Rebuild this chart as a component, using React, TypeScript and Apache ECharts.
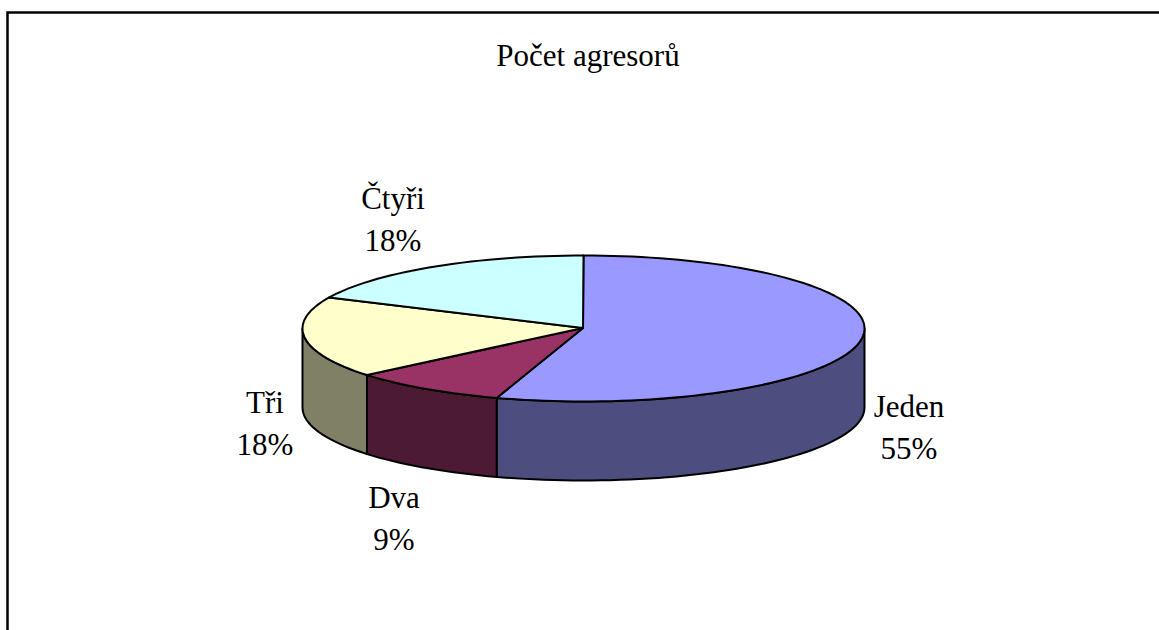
import React, { useEffect, useRef } from "react";
import * as echarts from "echarts";

const title = "Počet agresorů";
const categories = ["Jeden", "Dva", "Tři", "Čtyři"];
const values = [55, 9, 18, 18];
const topColors = ["#9999FF", "#993366", "#FFFFCC", "#CCFFFF"];
const sideColors = ["#4D4D80", "#4D1A33", "#808066", "#668080"];
const labelCentres = [
  [909, 406],
  [394, 497],
  [265, 402],
  [393, 198],
];

const CX = 583.5;
const CY = 328.5;
const RX = 281;
const RY = 73;
const DEPTH = 79;
const LINE_GAP = 42;
const FONT = '"Liberation Serif", "Times New Roman", serif';

const total = values.reduce((a, b) => a + b, 0);

function sliceAngles(i: number): [number, number] {
  let before = 0;
  for (let k = 0; k < i; k++) before += values[k];
  return [(before / total) * Math.PI * 2, ((before + values[i]) / total) * Math.PI * 2];
}

function rim(a: number, dy = 0): number[] {
  return [CX + RX * Math.sin(a), CY - RY * Math.cos(a) + dy];
}

function arc(a0: number, a1: number, dy = 0): number[][] {
  const n = Math.max(2, Math.ceil(Math.abs(a1 - a0) / (Math.PI / 90)));
  const pts: number[][] = [];
  for (let k = 0; k <= n; k++) pts.push(rim(a0 + ((a1 - a0) * k) / n, dy));
  return pts;
}

function renderSide(_: any, api: any) {
  const i = api.value(0);
  const [a0, a1] = sliceAngles(i);
  const s = Math.max(a0, Math.PI / 2);
  const e = Math.min(a1, Math.PI * 1.5);
  if (e <= s) return { type: "group", children: [] };
  const points = [...arc(s, e), ...arc(e, s, DEPTH)];
  return {
    type: "polygon",
    shape: { points },
    style: { fill: sideColors[i], stroke: "#000", lineWidth: 2, lineJoin: "round" },
  };
}

function renderTop(_: any, api: any) {
  const i = api.value(0);
  const [a0, a1] = sliceAngles(i);
  const points = [[CX - 0.5, CY - 0.5], ...arc(a0, a1)];
  const pct = Math.round((values[i] / total) * 100) + "%";
  const [lx, ly] = labelCentres[i];
  const text = (t: string, y: number) => ({
    type: "text",
    style: {
      x: lx,
      y,
      text: t,
      fill: "#000",
      font: `31px ${FONT}`,
      align: "center",
      verticalAlign: "middle",
    },
  });
  return {
    type: "group",
    children: [
      {
        type: "polygon",
        shape: { points },
        style: { fill: topColors[i], stroke: "#000", lineWidth: 2, lineJoin: "round" },
      },
      text(categories[i], ly),
      text(pct, ly + LINE_GAP),
    ],
  };
}

export default function App() {
  const ref = useRef<HTMLDivElement>(null);
  useEffect(() => {
    const chart = echarts.init(ref.current!, undefined, { renderer: "svg" });
    const indices = categories.map((_, i) => [i]);
    chart.setOption({
      animation: false,
      backgroundColor: "#fff",
      title: {
        text: title,
        left: 583,
        top: 35,
        textAlign: "center",
        textStyle: { fontFamily: FONT, fontSize: 31, fontWeight: "normal", color: "#000" },
      },
      graphic: [
        {
          type: "polyline",
          silent: true,
          shape: { points: [[7.5, 640], [7.5, 12.5], [1170, 12.5]] },
          style: { fill: "none", stroke: "#000", lineWidth: 2.5 },
        },
      ],
      series: [
        { type: "custom", coordinateSystem: "none", silent: true, renderItem: renderSide, data: indices, z: 2 },
        { type: "custom", coordinateSystem: "none", silent: true, renderItem: renderTop, data: indices, z: 3 },
      ],
    });
    return () => chart.dispose();
  }, []);
  return <div ref={ref} style={{ position: "fixed", left: 0, top: 0, width: 1159, height: 630 }} />;
}
